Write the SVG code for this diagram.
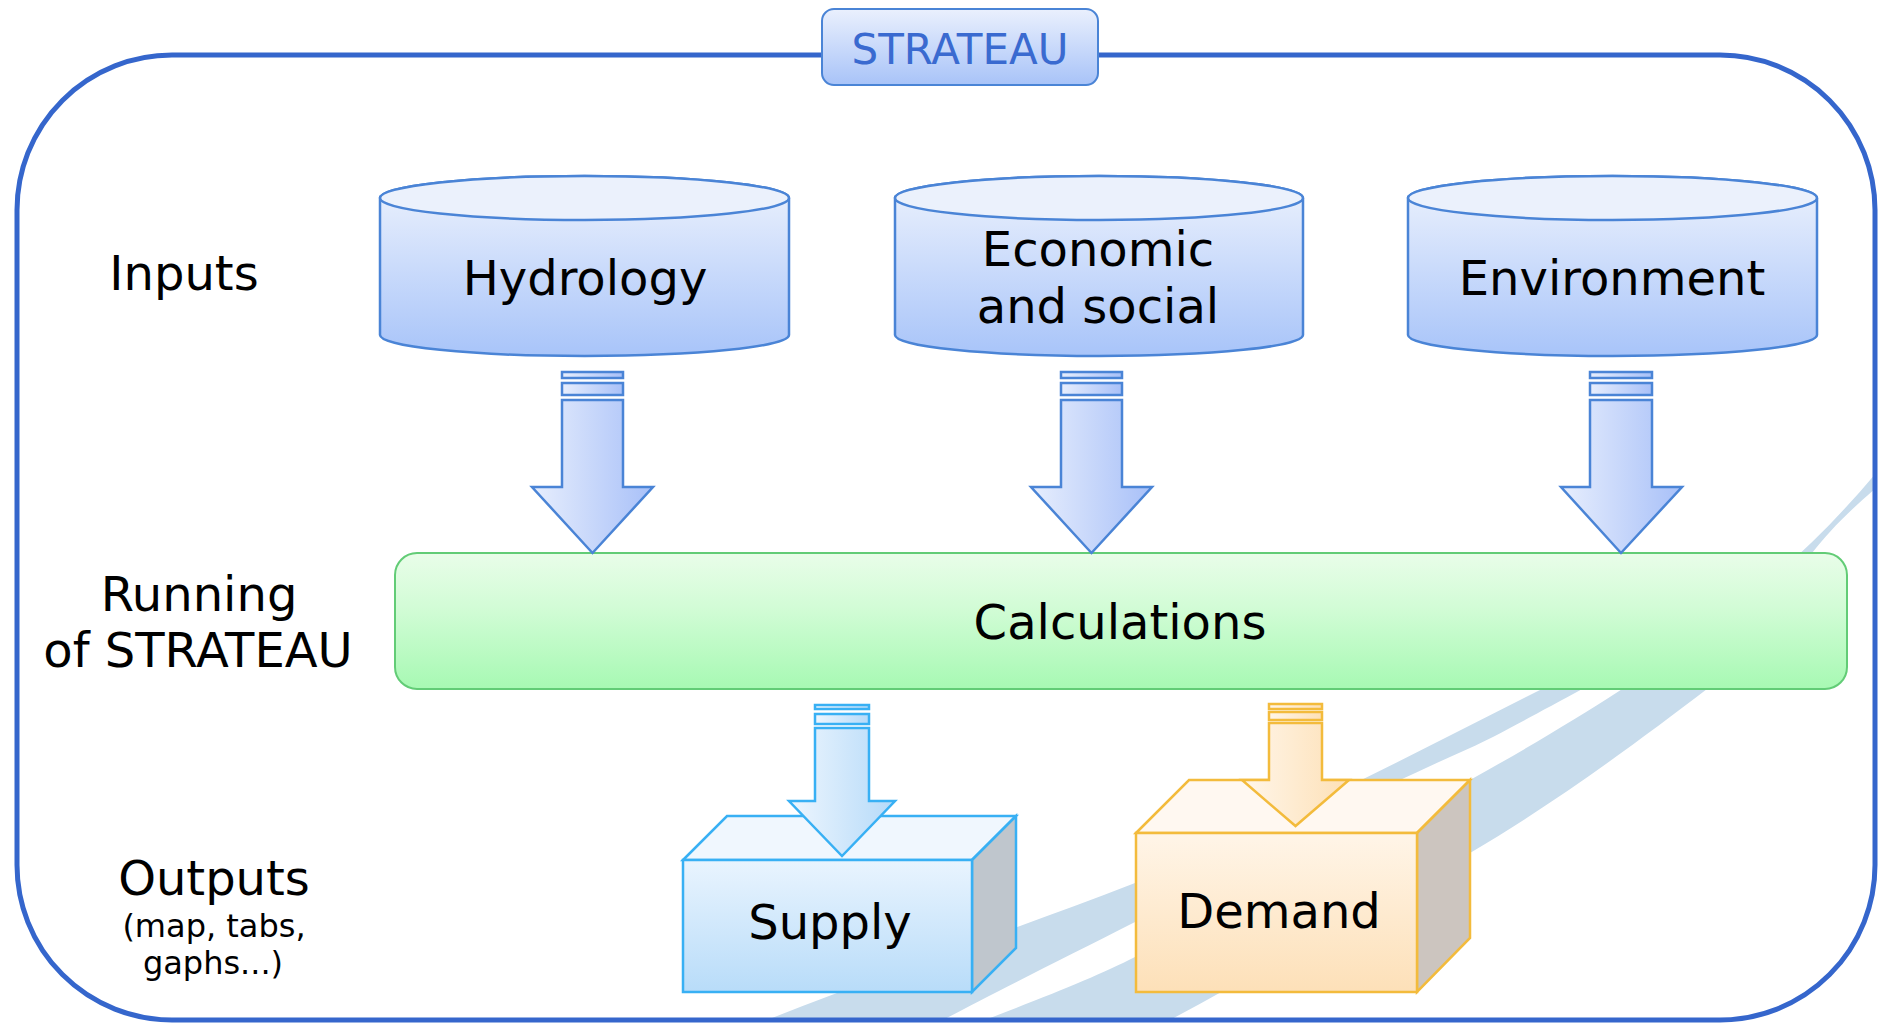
<svg xmlns="http://www.w3.org/2000/svg" width="1878" height="1023" viewBox="0 0 1878 1023">
<style>
text{font-family:"DejaVu Sans","Liberation Sans",sans-serif;fill:#000;text-anchor:middle}
.lbl{font-size:48px}
.sm{font-size:32px}
.blue{stroke:#4a84d6;stroke-width:2.5}
.sup{stroke:#38b0f4;stroke-width:2.5}
.dem{stroke:#f3bb3c;stroke-width:2.5}
.band{fill:#c8dcec}
</style>
<defs>
<linearGradient id="cylG" x1="0" y1="0" x2="0" y2="1"><stop offset="0" stop-color="#eef3fd"/><stop offset="1" stop-color="#a8c4f9"/></linearGradient>
<linearGradient id="titleG" x1="0" y1="0" x2="0" y2="1"><stop offset="0" stop-color="#eaf0fd"/><stop offset="1" stop-color="#a8c3f8"/></linearGradient>
<linearGradient id="calcG" x1="0" y1="0" x2="0" y2="1"><stop offset="0" stop-color="#e9fde9"/><stop offset="0.4" stop-color="#d2fcd6"/><stop offset="1" stop-color="#a7f9b3"/></linearGradient>
<linearGradient id="arrB" x1="0" y1="0" x2="1" y2="0"><stop offset="0" stop-color="#e7eefd"/><stop offset="1" stop-color="#a8c0f8"/></linearGradient>
<linearGradient id="arrS" x1="0" y1="0" x2="1" y2="0"><stop offset="0" stop-color="#eef6fe"/><stop offset="1" stop-color="#b5daf9"/></linearGradient>
<linearGradient id="arrD" x1="0" y1="0" x2="1" y2="0"><stop offset="0" stop-color="#fff6ea"/><stop offset="1" stop-color="#fde0b6"/></linearGradient>
<linearGradient id="supF" x1="0" y1="0" x2="0" y2="1"><stop offset="0" stop-color="#e9f4fe"/><stop offset="1" stop-color="#b8dcf9"/></linearGradient>
<linearGradient id="demF" x1="0" y1="0" x2="0" y2="1"><stop offset="0" stop-color="#fff5e8"/><stop offset="1" stop-color="#fde0b8"/></linearGradient>
<clipPath id="frameClip"><rect x="17" y="55" width="1858" height="965" rx="155" ry="155"/></clipPath>
</defs>
<rect width="1878" height="1023" fill="#fff"/>

<g id="background" clip-path="url(#frameClip)">
<path class="band" d="M767 1020 C880 975 1000 935 1135 883 C1280 825 1420 750 1560 680 L1660 625 L1665 645 C1560 700 1500 735 1470 748 C1330 810 1200 880 1135 922 C1060 960 990 995 943 1020 Z"/>
<path class="band" d="M985 1020 C1050 995 1100 975 1135 957 C1260 895 1380 830 1470 780 C1560 730 1640 680 1700 635 C1770 585 1830 530 1885 462 L1885 480 C1850 510 1830 530 1812 553 C1780 595 1745 650 1707 689 C1640 740 1560 800 1470 853 C1380 905 1280 960 1170 1020 Z"/>
</g>

<g id="frame">
<rect x="17" y="55" width="1858" height="965" rx="155" ry="155" fill="none" stroke="#3566cc" stroke-width="5"/>
</g>

<g id="title">
<rect x="822" y="9" width="276" height="76" rx="12" ry="12" fill="url(#titleG)" stroke="#4a84d6" stroke-width="2"/>
<text x="960" y="64" style="font-size:42px;fill:#3a6ad0">STRATEAU</text>
</g>

<g id="label-inputs"><text class="lbl" x="184" y="290">Inputs</text></g>
<g id="label-running"><text class="lbl" x="199" y="611">Running</text><text class="lbl" x="198" y="667">of STRATEAU</text></g>
<g id="label-outputs"><text class="lbl" x="214" y="895">Outputs</text><text class="sm" x="214" y="937">(map, tabs,</text><text class="sm" x="213" y="974">gaphs...)</text></g>

<g id="hydrology">
<path class="blue" fill="url(#cylG)" d="M380 198 A204.5 22 0 0 1 789 198 L789 335 A204.5 21 0 0 1 380 335 Z"/>
<ellipse class="blue" cx="584.5" cy="198" rx="204.5" ry="22" fill="#ebf1fc"/>
<text class="lbl" x="585" y="295">Hydrology</text>
</g>
<g id="economic">
<path class="blue" fill="url(#cylG)" d="M895 198 A204 22 0 0 1 1303 198 L1303 335 A204 21 0 0 1 895 335 Z"/>
<ellipse class="blue" cx="1099" cy="198" rx="204" ry="22" fill="#ebf1fc"/>
<text class="lbl" x="1098" y="266">Economic</text>
<text class="lbl" x="1098" y="323">and social</text>
</g>
<g id="environment">
<path class="blue" fill="url(#cylG)" d="M1408 198 A204.5 22 0 0 1 1817 198 L1817 335 A204.5 21 0 0 1 1408 335 Z"/>
<ellipse class="blue" cx="1612.5" cy="198" rx="204.5" ry="22" fill="#ebf1fc"/>
<text class="lbl" x="1612" y="295">Environment</text>
</g>

<g id="calculations">
<rect x="395" y="553" width="1452" height="136" rx="22" ry="22" fill="url(#calcG)" stroke="#62cc76" stroke-width="2"/>
<text class="lbl" x="1120" y="639">Calculations</text>
</g>

<g id="connectors">
<g fill="url(#arrB)" class="blue">
<rect x="562" y="372" width="61" height="6"/><rect x="562" y="383" width="61" height="12"/>
<path d="M562 400 L623 400 L623 487 L653 487 L592.5 553 L532 487 L562 487 Z"/>
<rect x="1061" y="372" width="61" height="6"/><rect x="1061" y="383" width="61" height="12"/>
<path d="M1061 400 L1122 400 L1122 487 L1152 487 L1091.5 553 L1031 487 L1061 487 Z"/>
<rect x="1590" y="372" width="62" height="6"/><rect x="1590" y="383" width="62" height="12"/>
<path d="M1590 400 L1652 400 L1652 487 L1682 487 L1621 553 L1561 487 L1590 487 Z"/>
</g>
</g>

<g id="supply">
<path class="sup" fill="#f0f7fe" d="M683 860 L727 816 L1016 816 L972 860 Z"/>
<path class="sup" fill="#bfc6cd" d="M972 860 L1016 816 L1016 948 L972 992 Z"/>
<rect class="sup" x="683" y="860" width="289" height="132" fill="url(#supF)"/>
<text class="lbl" x="830" y="939">Supply</text>
</g>
<g id="supply-arrow" fill="url(#arrS)" class="sup">
<rect x="815" y="705" width="54" height="4"/><rect x="815" y="714" width="54" height="10"/>
<path d="M815 728 L869 728 L869 801 L895 801 L842 856 L789 801 L815 801 Z"/>
</g>

<g id="demand">
<path class="dem" fill="#fff8f1" d="M1136 833 L1189 780 L1470 780 L1417 833 Z"/>
<path class="dem" fill="#ccc5bf" d="M1417 833 L1470 780 L1470 938 L1417 992 Z"/>
<rect class="dem" x="1136" y="833" width="281" height="159" fill="url(#demF)"/>
<text class="lbl" x="1279" y="928">Demand</text>
</g>
<g id="demand-arrow" fill="url(#arrD)" class="dem">
<rect x="1269" y="704" width="53" height="5"/><rect x="1269" y="712" width="53" height="8"/>
<path d="M1269 723 L1322 723 L1322 780 L1349 780 L1295.5 826 L1242 780 L1269 780 Z"/>
</g>
</svg>
